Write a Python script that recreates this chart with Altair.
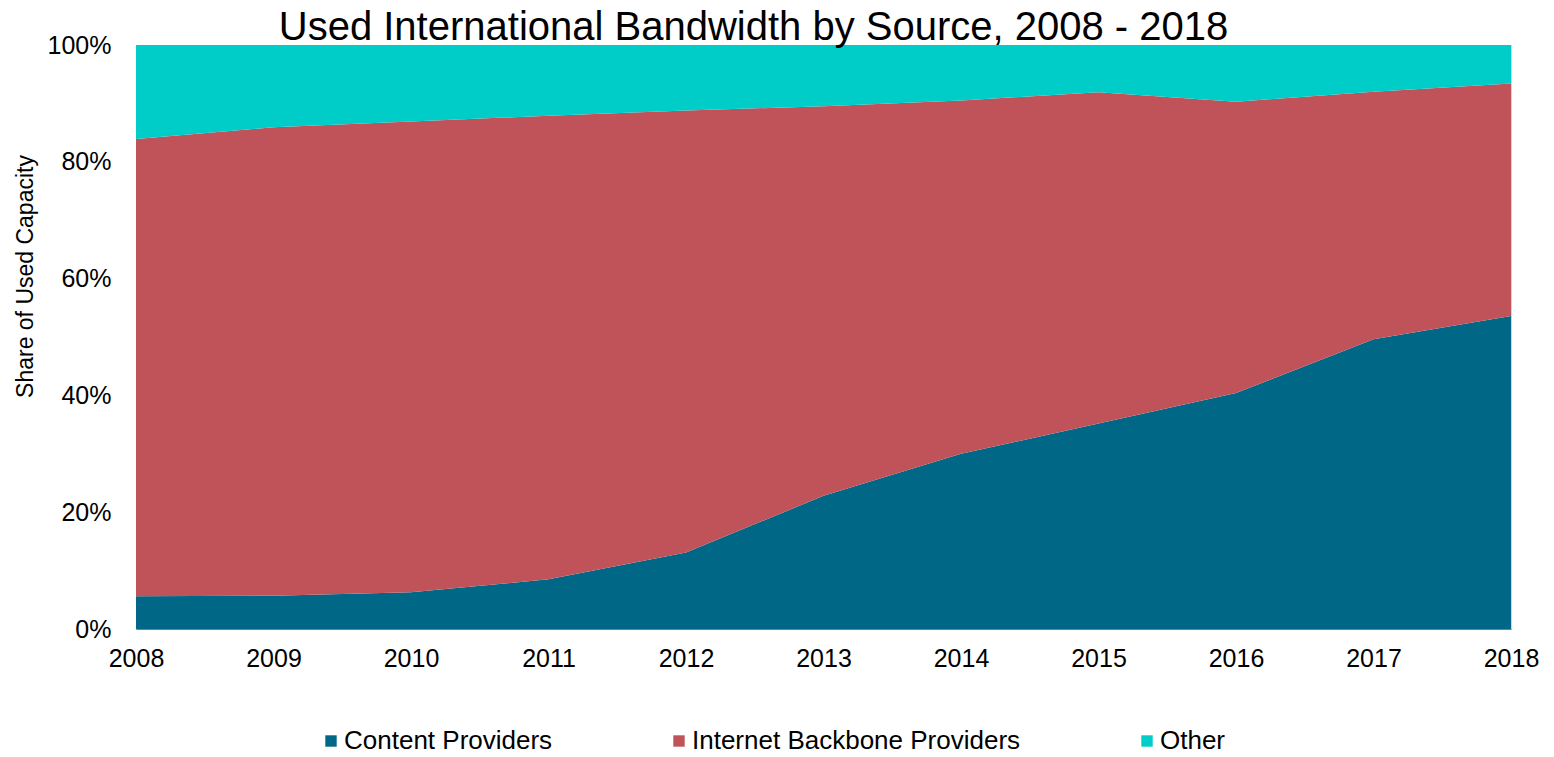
import altair as alt
import pandas as pd

years = [2008, 2009, 2010, 2011, 2012, 2013, 2014, 2015, 2016, 2017, 2018]
series_names = ["Content Providers", "Internet Backbone Providers", "Other"]
content = [5.6, 5.7, 6.3, 8.5, 13.1, 22.8, 30.0, 35.2, 40.4, 49.6, 53.6]
backbone = [78.3, 80.2, 80.6, 79.4, 75.7, 66.7, 60.5, 56.7, 49.9, 42.4, 39.8]
other = [16.1, 14.1, 13.1, 12.1, 11.2, 10.5, 9.5, 8.1, 9.7, 8.0, 6.6]
colors = ["#006786", "#C0535A", "#00CCC8"]
y_ticks = [0, 20, 40, 60, 80, 100]

rows = []
for i, (name, vals) in enumerate(zip(series_names, [content, backbone, other])):
    for yr, v in zip(years, vals):
        rows.append({"year": yr, "series": name, "share": v, "order": i})
df = pd.DataFrame(rows)

FONT = "Liberation Sans"

chart = (
    alt.Chart(df)
    .mark_area(interpolate="linear", opacity=1)
    .encode(
        x=alt.X(
            "year:Q",
            scale=alt.Scale(domain=[2008, 2018], nice=False, zero=False),
            axis=alt.Axis(
                values=years,
                format="d",
                title=None,
                ticks=False,
                grid=False,
                labelFlush=False,
                labelOverlap=False,
                domainColor="#7f7f7f",
                domainWidth=1,
                labelFontSize=25,
                labelColor="#000000",
                labelPadding=17,
                labelFont=FONT,
            ),
        ),
        y=alt.Y(
            "share:Q",
            stack="zero",
            scale=alt.Scale(domain=[0, 100], nice=False),
            axis=alt.Axis(
                values=y_ticks,
                labelExpr="datum.value + '%'",
                title="Share of Used Capacity",
                titleFontSize=23,
                titleFontWeight="normal",
                titleFont=FONT,
                titleColor="#000000",
                titleAngle=-90,
                titleAlign="center",
                titleBaseline="top",
                titleX=-122,
                titleY=231,
                ticks=False,
                grid=False,
                domain=False,
                labelFlush=False,
                labelOverlap=False,
                labelFontSize=25,
                labelColor="#000000",
                labelPadding=25,
                labelFont=FONT,
            ),
        ),
        color=alt.Color(
            "series:N",
            scale=alt.Scale(domain=series_names, range=colors),
            legend=alt.Legend(
                title=None,
                orient="none",
                legendX=182,
                legendY=683,
                direction="horizontal",
                symbolType="square",
                symbolSize=130,
                symbolStrokeWidth=0,
                labelFontSize=26,
                labelFont=FONT,
                labelColor="#000000",
                labelOffset=0,
                labelLimit=500,
                columnPadding=113,
            ),
        ),
        order=alt.Order("order:Q", sort="ascending"),
    )
    .properties(
        width=1375,
        height=584,
        title=alt.TitleParams(
            text="Used International Bandwidth by Source, 2008 - 2018",
            fontSize=40,
            font=FONT,
            fontWeight="normal",
            color="#000000",
            anchor="middle",
            dx=-70,
            offset=-15,
        ),
        padding={"left": 5, "top": 0, "right": 0, "bottom": 0},
    )
    .configure_view(stroke="#d4d4d4", strokeWidth=1)
)

chart.save("out.html", embed_options={"renderer": "svg", "actions": False})
